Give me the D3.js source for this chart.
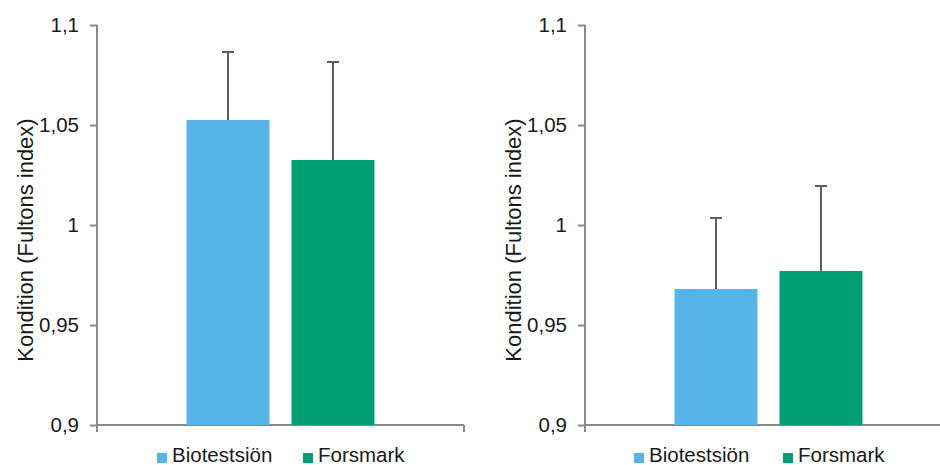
<!DOCTYPE html>
<html>
<head>
<meta charset="utf-8">
<script src="https://cdn.jsdelivr.net/npm/d3@7"></script>
<style>
  html, body { margin: 0; padding: 0; background: #fff; }
  svg { display: block; font-family: "Liberation Sans", Arial, sans-serif; }
</style>
</head>
<body>
<svg id="chart" width="940" height="465"></svg>
<script>
// ---- data ----
const series = ["Biotestsiön", "Forsmark"];
const colors = ["#56B4E9", "#009E73"];
const leftValues = [1.0525, 1.0325];
const leftErrors = [0.034, 0.049];
const rightValues = [0.968, 0.977];
const rightErrors = [0.0355, 0.0425];
const tickValues = [0.9, 0.95, 1, 1.05, 1.1];
const tickLabels = ["0,9", "0,95", "1", "1,05", "1,1"];
const yTitle = "Kondition (Fultons index)";

const svg = d3.select("#chart");
const axisColor = "#898989";
const errColor = "#5f5f5f";
const textColor = "#1a1a1a";

function panel(x0, values, errors, legendSquares) {
  const W = 367, top = 25, bottom = 425;
  const g = svg.append("g").attr("transform", `translate(${x0},0)`);
  const y = d3.scaleLinear().domain([0.9, 1.1]).range([bottom, top]);
  const outer = d3.scaleBand().domain(["g"]).range([0, W]).paddingInner(0).paddingOuter(0.476);
  const inner = d3.scaleBand().domain(series).range([0, outer.bandwidth()]).paddingInner(0.21).paddingOuter(0);

  // y axis
  const ax = d3.axisLeft(y).tickValues(tickValues)
    .tickFormat((d, i) => tickLabels[i]).tickSize(7).tickSizeOuter(0).tickPadding(11);
  const ag = g.append("g").call(ax);
  ag.attr("font-size", null).attr("font-family", null);
  ag.select(".domain").remove();
  ag.selectAll(".tick line").attr("stroke", axisColor).attr("stroke-width", 2);
  ag.selectAll(".tick text").style("font-size", "20.5px").attr("fill", textColor);
  g.append("line").attr("x1", 0).attr("x2", 0).attr("y1", y(1.1)).attr("y2", bottom + 7)
    .attr("stroke", axisColor).attr("stroke-width", 2);
  // x axis
  g.append("line").attr("x1", 0).attr("x2", W).attr("y1", bottom).attr("y2", bottom)
    .attr("stroke", axisColor).attr("stroke-width", 2);
  g.append("line").attr("x1", W).attr("x2", W).attr("y1", bottom).attr("y2", bottom + 7)
    .attr("stroke", axisColor).attr("stroke-width", 2);

  // bars
  const gx = outer("g");
  const data = series.map((s, i) => ({ s, v: values[i], e: errors[i], c: colors[i] }));
  g.selectAll("rect.bar").data(data).enter().append("rect")
    .attr("x", d => gx + inner(d.s)).attr("width", inner.bandwidth())
    .attr("y", d => y(d.v)).attr("height", d => y(0.9) - y(d.v))
    .attr("fill", d => d.c);
  // error bars (upper only)
  data.forEach(d => {
    const cx = gx + inner(d.s) + inner.bandwidth() / 2;
    g.append("line").attr("x1", cx).attr("x2", cx).attr("y1", y(d.v)).attr("y2", y(d.v + d.e))
      .attr("stroke", errColor).attr("stroke-width", 2);
    g.append("line").attr("x1", cx - 6).attr("x2", cx + 6).attr("y1", y(d.v + d.e)).attr("y2", y(d.v + d.e))
      .attr("stroke", errColor).attr("stroke-width", 2);
  });

  // y title
  g.append("text").attr("transform", `translate(${-64},${240}) rotate(-90)`)
    .attr("text-anchor", "middle").style("font-size", "22px").attr("fill", textColor).text(yTitle);

  // legend
  series.forEach((s, i) => {
    g.append("rect").attr("x", legendSquares[i]).attr("y", 453).attr("width", 10).attr("height", 10).attr("fill", colors[i]);
    g.append("text").attr("x", legendSquares[i] + 15).attr("y", 462).style("font-size", "20.5px").attr("fill", textColor).text(s);
  });
}

panel(97, leftValues, leftErrors, [60, 206]);
panel(585, rightValues, rightErrors, [49, 198]);
</script>
</body>
</html>
